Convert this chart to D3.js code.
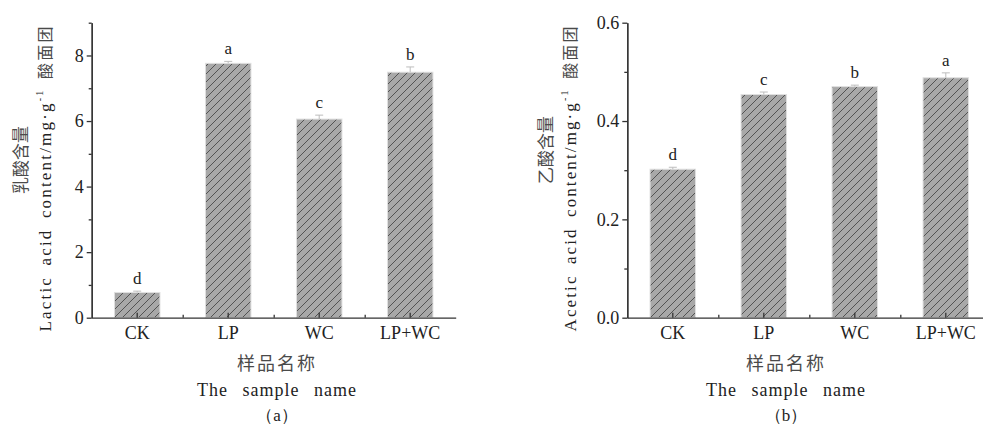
<!doctype html>
<html>
<head>
<meta charset="utf-8">
<style>
  body { margin: 0; background: #fff; }
  svg { display: block; }
  .serif { font-family: "Liberation Serif", "Times New Roman", serif; fill: #222; }
  .cjk { font-family: "Noto Sans CJK SC", sans-serif; fill: #4a4a4a; }
  .axis path, .axis line { stroke: #333; stroke-width: 1.3; }
</style>
<script src="https://d3js.org/d3.v7.min.js"></script>
</head>
<body>
<svg width="983" height="424"></svg>
<script>
// data
var categories = ["CK", "LP", "WC", "LP+WC"];

var lacticMeans = [0.77, 7.76, 6.06, 7.49];
var lacticErr = [0.04, 0.06, 0.12, 0.16];
var lacticLetters = ["d", "a", "c", "b"];
var lacticTicks = [0, 2, 4, 6, 8];
var lacticMinor = [1, 3, 5, 7, 9];

var aceticMeans = [0.302, 0.454, 0.470, 0.488];
var aceticErr = [0.004, 0.005, 0.003, 0.010];
var aceticLetters = ["d", "c", "b", "a"];
var aceticTicks = [0, 0.2, 0.4, 0.6];
var aceticMinor = [0.1, 0.3, 0.5];

var svg = d3.select("svg");

// hatch pattern for the bars
var defs = svg.append("defs");
var pat = defs.append("pattern")
    .attr("id", "hatch")
    .attr("patternUnits", "userSpaceOnUse")
    .attr("width", 8).attr("height", 8);
pat.append("rect").attr("width", 8).attr("height", 8).attr("fill", "#a8a8a8");
pat.append("path")
    .attr("d", "M-1,9 L9,-1 M-2,2 L2,-2 M6,10 L10,6")
    .attr("stroke", "#4a4a4a").attr("stroke-width", 0.9);

function serifText(sel, size) {
    sel.attr("font-family", "'Liberation Serif', 'Times New Roman', serif")
       .attr("font-size", size).attr("fill", "#222");
}

function drawPanel(opt) {
    var x = d3.scaleBand().domain(categories).range([opt.left, opt.left + 364]).paddingInner(0.5).paddingOuter(0.25);
    var xc = d3.scaleBand().domain(categories).range([opt.left, opt.left + 364]);
    var y = d3.scaleLinear().domain(opt.domain).range([317.7, 22.7]);
    var g = svg.append("g");

    var data = categories.map(function(c, i) {
        return { cat: c, v: opt.means[i], e: opt.err[i], l: opt.letters[i] };
    });

    // bars
    g.selectAll(".bar").data(data).enter().append("rect")
        .attr("x", function(d) { return x(d.cat); })
        .attr("y", function(d) { return y(d.v); })
        .attr("width", x.bandwidth())
        .attr("height", function(d) { return y(0) - y(d.v); })
        .attr("fill", "url(#hatch)")
        .attr("stroke", "#e0e0e0").attr("stroke-width", 1);

    // error bars
    var eb = g.selectAll(".err").data(data).enter().append("g").attr("stroke", "#bdbdbd").attr("stroke-width", 1);
    eb.append("line")
        .attr("x1", function(d) { return xc(d.cat) + xc.bandwidth() / 2; })
        .attr("x2", function(d) { return xc(d.cat) + xc.bandwidth() / 2; })
        .attr("y1", function(d) { return y(d.v); })
        .attr("y2", function(d) { return y(d.v + d.e); });
    eb.append("line")
        .attr("x1", function(d) { return xc(d.cat) + xc.bandwidth() / 2 - 4; })
        .attr("x2", function(d) { return xc(d.cat) + xc.bandwidth() / 2 + 4; })
        .attr("y1", function(d) { return y(d.v + d.e); })
        .attr("y2", function(d) { return y(d.v + d.e); });

    // significance letters
    g.selectAll(".sig").data(data).enter().append("text")
        .call(serifText, "17px")
        .attr("x", function(d) { return xc(d.cat) + xc.bandwidth() / 2; })
        .attr("y", function(d) { return y(d.v + d.e) - 7; })
        .attr("text-anchor", "middle")
        .text(function(d) { return d.l; });

    // y axis
    var ya = g.append("g").attr("class", "axis")
        .attr("transform", "translate(" + opt.left + ",0)")
        .call(d3.axisLeft(y).tickValues(opt.ticks).tickSize(5).tickSizeOuter(0).tickPadding(3)
            .tickFormat(opt.fmt));
    ya.selectAll("text").call(serifText, "18px");
    g.append("g").attr("class", "axis")
        .attr("transform", "translate(" + opt.left + ",0)")
        .call(d3.axisLeft(y).tickValues(opt.minor).tickSize(3).tickSizeOuter(0).tickFormat(""));

    // x axis
    var xa = g.append("g").attr("class", "axis")
        .attr("transform", "translate(0," + y(0) + ")")
        .call(d3.axisBottom(xc).tickSizeInner(-5).tickSizeOuter(0).tickPadding(9));
    xa.selectAll("text").call(serifText, "18px");
    var xb = d3.scaleLinear().domain([0, 4]).range([opt.left, opt.left + 364]);
    g.append("g").attr("class", "axis")
        .attr("transform", "translate(0," + y(0) + ")")
        .call(d3.axisBottom(xb).tickValues([1, 2, 3]).tickSize(-3).tickSizeOuter(0).tickFormat(""))
        .select(".domain").remove();

    // y title, two rotated lines
    g.append("text").attr("class", "cjk")
        .attr("transform", "translate(" + opt.ycx1 + "," + opt.ycy1 + ") rotate(-90)")
        .attr("text-anchor", "middle").attr("dy", "0.35em")
        .attr("font-size", "17px")
        .text(opt.yTitleCn);
    var t2 = g.append("text").attr("class", "serif")
        .attr("transform", "translate(" + opt.ycx2 + ",179) rotate(-90)")
        .attr("text-anchor", "middle").attr("dy", "0.35em")
        .attr("font-size", "17px")
        .attr("word-spacing", "4px")
        .attr("textLength", 305).attr("lengthAdjust", "spacing");
    t2.append("tspan").text(opt.yTitleEn + " content/mg·g");
    t2.append("tspan").attr("font-size", "10px").attr("dy", "-0.8em").text("-1");
    t2.append("tspan").attr("class", "cjk").attr("font-size", "16px").attr("dy", "0.5em")
        .text(" 酸面团");

    // x title
    g.append("text").attr("class", "cjk")
        .attr("x", opt.xtc).attr("y", 370)
        .attr("text-anchor", "middle").attr("font-size", "18px").attr("letter-spacing", "2px")
        .text("样品名称");
    g.append("text").attr("class", "serif")
        .attr("x", opt.xtc).attr("y", 396)
        .attr("text-anchor", "middle").attr("font-size", "18px")
        .attr("letter-spacing", "1px").attr("word-spacing", "9px")
        .text("The sample name");
    g.append("text").attr("class", "serif")
        .attr("x", opt.xtc).attr("y", 421)
        .attr("text-anchor", "middle").attr("font-size", "17px")
        .text("（" + opt.tag + "）");
}

drawPanel({
    left: 91.7, domain: [0, 9], means: lacticMeans, err: lacticErr, letters: lacticLetters,
    ticks: lacticTicks, minor: lacticMinor, fmt: d3.format("d"),
    yTitleCn: "乳酸含量", yTitleEn: "Lactic acid",
    ycx1: 21, ycy1: 160, ycx2: 45, xtc: 277, tag: "a"
});

drawPanel({
    left: 627.3, domain: [0, 0.6], means: aceticMeans, err: aceticErr, letters: aceticLetters,
    ticks: aceticTicks, minor: aceticMinor, fmt: d3.format(".1f"),
    yTitleCn: "乙酸含量", yTitleEn: "Acetic acid",
    ycx1: 546, ycy1: 150, ycx2: 570, xtc: 786, tag: "b"
});
</script>
</body>
</html>
